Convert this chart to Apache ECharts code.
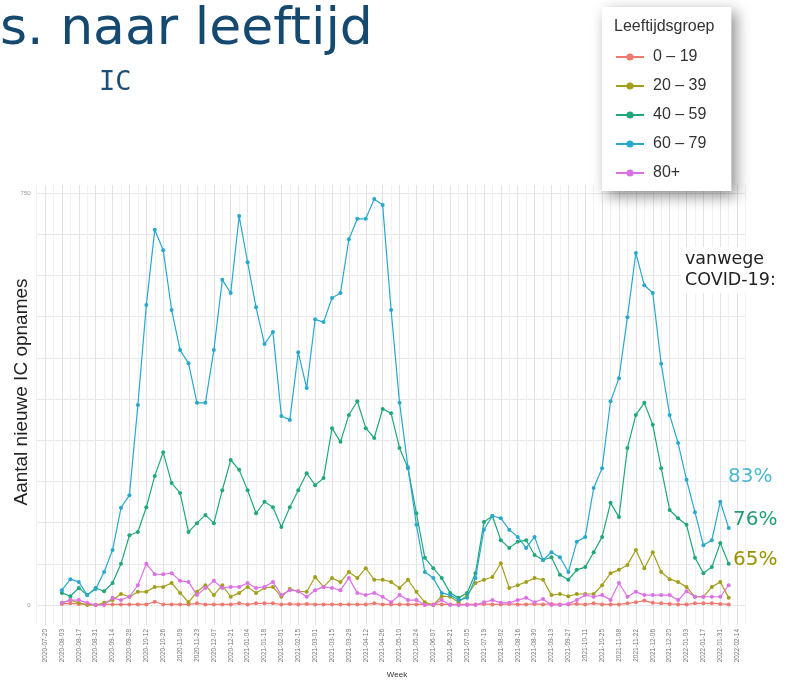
<!DOCTYPE html>
<html>
<head>
<meta charset="utf-8">
<script src="https://cdn.jsdelivr.net/npm/echarts@6/dist/echarts.min.js"></script>
<style>
html, body { margin: 0; padding: 0; background: #fff; }
#chart { width: 786px; height: 681px; }
</style>
</head>
<body>
<div id="chart"></div>
<script>
// weken op de x-as (elke maandag), eerste data-week is 2020-08-03
const firstWeek = '2020-07-13';
const weekCount = 85;
const dataOffset = 3;

const ageGroups = ['0 – 19', '20 – 39', '40 – 59', '60 – 79', '80+'];
const ageColors = ['#ef786f', '#a39f1c', '#20a878', '#29a8cd', '#de70e6'];

const age0to19 = [2, 3, 2, 1, 0, 1, 1, 1, 1, 1, 1, 6, 1, 1, 1, 1, 3, 1, 1, 1,
  1, 3, 1, 3, 3, 3, 1, 2, 1, 2, 1, 1, 1, 1, 1, 1, 1, 3, 1, 1,
  1, 1, 1, 1, 1, 1, 1, 1, 1, 1, 2, 1, 1, 2, 1, 1, 2, 1, 2, 1,
  1, 2, 1, 3, 1, 1, 1, 3, 5, 8, 4, 3, 2, 1, 1, 3, 3, 3, 2, 1];
const age20to39 = [4, 9, 4, 0, 0, 4, 9, 20, 15, 24, 24, 33, 33, 40, 22, 5, 24, 36, 18, 36,
  15, 22, 33, 22, 31, 33, 15, 29, 25, 24, 51, 33, 49, 42, 60, 49, 67, 46, 46, 42,
  31, 46, 24, 5, 0, 16, 15, 5, 18, 40, 46, 51, 76, 31, 36, 42, 49, 46, 18, 20,
  16, 20, 20, 20, 36, 58, 64, 73, 100, 67, 96, 60, 47, 42, 33, 15, 15, 33, 42, 13];
const age40to59 = [22, 16, 31, 18, 31, 25, 40, 75, 127, 133, 178, 235, 278, 222, 204, 133, 149, 164, 149, 209,
  264, 246, 209, 167, 188, 178, 142, 178, 209, 240, 218, 231, 322, 297, 346, 371, 322, 304, 357, 349,
  286, 249, 167, 86, 67, 49, 22, 13, 22, 58, 151, 162, 118, 104, 115, 118, 91, 82, 87, 55,
  46, 64, 69, 96, 124, 186, 160, 286, 346, 368, 328, 249, 173, 158, 146, 86, 58, 69, 113, 75];
const age60to79 = [27, 47, 42, 18, 29, 60, 100, 177, 200, 364, 546, 683, 646, 537, 464, 440, 368, 368, 464, 592,
  568, 708, 624, 542, 475, 497, 344, 337, 460, 395, 520, 515, 559, 568, 666, 703, 703, 739, 728, 537,
  368, 251, 146, 60, 49, 22, 18, 9, 13, 49, 137, 162, 158, 137, 124, 104, 124, 82, 96, 87,
  60, 115, 124, 213, 249, 371, 413, 524, 641, 582, 568, 439, 346, 295, 228, 169, 109, 118, 188, 140];
const age80plus = [4, 9, 9, 4, 0, 0, 13, 9, 15, 36, 75, 56, 56, 58, 44, 42, 18, 31, 44, 31,
  33, 33, 40, 31, 33, 42, 18, 27, 25, 15, 27, 33, 31, 27, 49, 22, 18, 22, 15, 5,
  18, 9, 9, 0, 0, 9, 0, 0, 0, 0, 5, 9, 4, 4, 9, 13, 5, 11, 0, 0,
  2, 9, 18, 15, 18, 9, 40, 15, 24, 18, 18, 18, 18, 9, 25, 15, 15, 15, 15, 36];

const yGridValues = [0, 75, 150, 225, 300, 375, 450, 525, 600, 675, 750];
const yTickLabels = [0, 750];

const vaccineShares = ['83%', '76%', '65%'];

function buildWeeks(start, n) {
  const out = [];
  const d = new Date(start + 'T00:00:00Z');
  for (let i = 0; i < n; i++) {
    out.push(d.toISOString().slice(0, 10));
    d.setUTCDate(d.getUTCDate() + 7);
  }
  return out;
}

const weeks = buildWeeks(firstWeek, weekCount);
const allSeries = [age0to19, age20to39, age40to59, age60to79, age80plus];

const chart = echarts.init(document.getElementById('chart'));

const option = {
  backgroundColor: '#fff',
  animation: false,
  color: ageColors,
  grid: { left: 36.6, right: 40.4, top: 185, bottom: 56 },
  legend: {
    orient: 'vertical',
    left: 602,
    top: 7,
    padding: [42, 25, 10, 13],
    itemWidth: 28,
    itemHeight: 9,
    itemGap: 13,
    backgroundColor: '#fff',
    shadowBlur: 14,
    shadowColor: 'rgba(0,0,0,0.45)',
    shadowOffsetX: 5,
    shadowOffsetY: 5,
    textStyle: { fontFamily: 'Liberation Sans', fontSize: 16, color: '#333', padding: [0, 0, 0, 4] },
    data: ageGroups
  },
  xAxis: {
    type: 'category',
    data: weeks,
    boundaryGap: false,
    axisLine: { show: false },
    axisTick: { show: false },
    axisLabel: {
      rotate: 90,
      interval: (idx) => idx % 2 === 1,
      fontSize: 6.5,
      color: '#777',
      margin: 4,
      fontFamily: 'Liberation Sans'
    },
    splitLine: { show: true, interval: 0, lineStyle: { color: ['#f1f1f1', '#e3e3e3'], width: 1 } }
  },
  yAxis: {
    type: 'value',
    min: -36.4,
    max: 764.6,
    axisLine: { show: false },
    axisTick: { show: false, customValues: yGridValues },
    axisLabel: { customValues: yTickLabels, fontSize: 6, color: '#999', margin: 6 },
    splitLine: { show: true, lineStyle: { color: '#e8e8e8', width: 1 } }
  },
  series: allSeries.map((vals, k) => ({
    name: ageGroups[k],
    type: 'line',
    symbol: 'circle',
    symbolSize: 4,
    lineStyle: { width: 1.2 },
    z: 2 + k,
    data: vals.map((v, i) => [weeks[i + dataOffset], v])
  })),
  graphic: [
    { type: 'text', x: 0, y: 30, z: 100, style: { text: 's. naar leeftijd', font: '52px "DejaVu Sans"', fill: '#16496f', textVerticalAlign: 'middle' } },
    { type: 'text', x: 99, y: 83, z: 100, style: { text: 'IC', font: '27px "DejaVu Sans Mono"', fill: '#1d4f76', textVerticalAlign: 'middle' } },
    { type: 'text', x: 614, y: 27, z: 100, style: { text: 'Leeftijdsgroep', font: '16px "Liberation Sans"', fill: '#333', textVerticalAlign: 'middle' } },
    { type: 'text', x: 22, y: 392, z: 100, rotation: Math.PI / 2, style: { text: 'Aantal nieuwe IC opnames', font: '19px "Liberation Sans"', fill: '#222', textAlign: 'center', textVerticalAlign: 'middle' } },
    { type: 'text', x: 397, y: 675, z: 100, style: { text: 'Week', font: '8px "Liberation Sans"', fill: '#333', textAlign: 'center', textVerticalAlign: 'middle' } },
    { type: 'text', x: 681, y: 270, z: 100, style: { text: 'vanwege\nCOVID-19:', font: '17.5px "DejaVu Sans"', fill: '#222', lineHeight: 21, textVerticalAlign: 'middle', backgroundColor: '#fff', padding: [2, 4, 2, 4] } },
    { type: 'text', x: 728, y: 477, z: 100, style: { text: vaccineShares[0], font: '20px "DejaVu Sans"', fill: '#4db8d4', textVerticalAlign: 'middle' } },
    { type: 'text', x: 733, y: 520, z: 100, style: { text: vaccineShares[1], font: '20px "DejaVu Sans"', fill: '#23a070', textVerticalAlign: 'middle' } },
    { type: 'text', x: 733, y: 560, z: 100, style: { text: vaccineShares[2], font: '20px "DejaVu Sans"', fill: '#9b9200', textVerticalAlign: 'middle' } }
  ]
};

chart.setOption(option);
</script>
</body>
</html>
